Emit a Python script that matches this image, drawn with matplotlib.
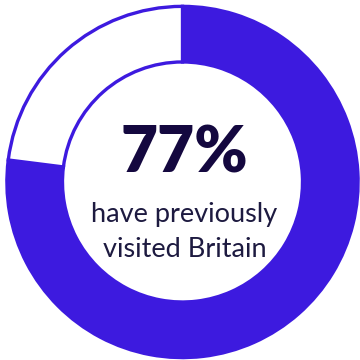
import matplotlib
matplotlib.use("Agg")
import matplotlib.pyplot as plt

# share of respondents
labels = ["Visited", "Not visited"]
shares = [77, 23]
headline = "77%"
caption_lines = ["have previously", "visited Britain"]

purple = "#3D1ADF"
navy = "#14083F"
ink = "#1D1A40"

plt.rcParams['font.family'] = ['Lato', 'DejaVu Sans']

fig = plt.figure(figsize=(3.6, 3.6), dpi=100)
ax = fig.add_axes([0, 0, 1, 1])

wedges, _ = ax.pie(shares, startangle=90, counterclock=False,
                   colors=[purple, "white"], radius=0.995,
                   wedgeprops=dict(width=0.315, edgecolor=purple, linewidth=2.4))

ax.set_aspect("equal")
ax.set_xlim(-1.034, 1.0057)
ax.set_ylim(-1.0085, 1.031)
ax.axis("off")

ax.text(0.01, 0.051, headline, ha="center", va="baseline",
        fontsize=46, fontweight="heavy", color=navy)
ax.text(0.01, -0.2266, caption_lines[0], ha="center", va="baseline",
        fontsize=19.5, color=ink)
ax.text(0.015, -0.425, caption_lines[1], ha="center", va="baseline",
        fontsize=19.5, color=ink)

fig.savefig("out.png", dpi=100)
plt.close(fig)
